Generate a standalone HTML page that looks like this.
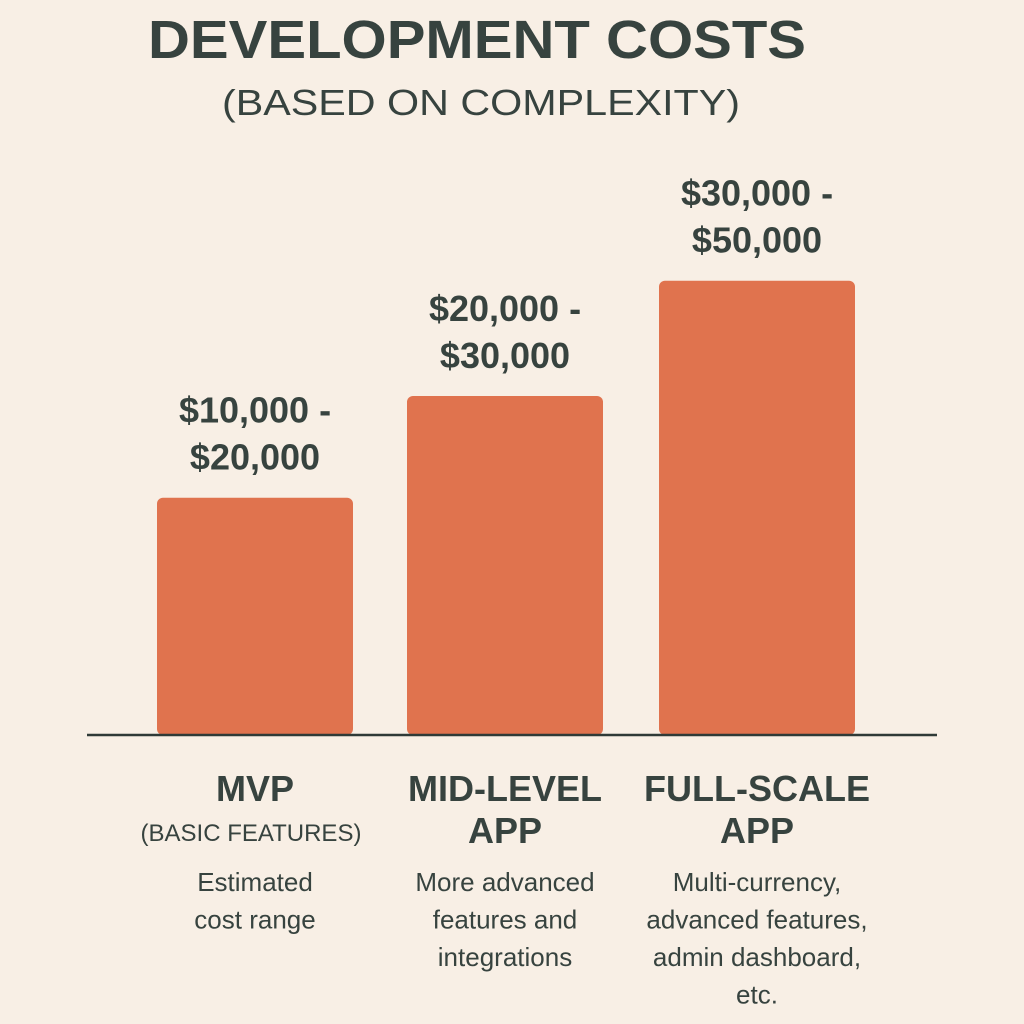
<!DOCTYPE html>
<html><head><meta charset="utf-8"><style>
html,body{margin:0;padding:0;background:#f8efe5;}
svg{display:block;font-family:"Liberation Sans",sans-serif;}
</style></head><body>
<svg width="1024" height="1024" viewBox="0 0 1024 1024">
<rect width="1024" height="1024" fill="#f8efe5"/>
<text x="477" y="58" text-anchor="middle" font-size="54" font-weight="bold" fill="#37433f" textLength="658" lengthAdjust="spacingAndGlyphs">DEVELOPMENT COSTS</text>
<text x="481" y="115" text-anchor="middle" font-size="36" fill="#37433f" textLength="518" lengthAdjust="spacingAndGlyphs">(BASED ON COMPLEXITY)</text>
<g id="bars"></g>
<line x1="87" y1="735" x2="937" y2="735" stroke="#2f3a37" stroke-width="2.5"/>
<g id="labels"></g>
</svg>
<script>
const categories = ["MVP", "MID-LEVEL APP", "FULL-SCALE APP"];
const values = [21000, 30000, 40200];
const rangeLow = ["$10,000 -", "$20,000 -", "$30,000 -"];
const rangeHigh = ["$20,000", "$30,000", "$50,000"];
const titleLines = [["MVP"], ["MID-LEVEL", "APP"], ["FULL-SCALE", "APP"]];
const subLines = [["(BASIC FEATURES)"], [], []];
const descLines = [["Estimated", "cost range"], ["More advanced", "features and", "integrations"], ["Multi-currency,", "advanced features,", "admin dashboard,", "etc."]];

const NS = "http://www.w3.org/2000/svg";
const baseY = 735;
const pxPerUnit = 11.3 / 1000;
function yScale(v){ return baseY - v * pxPerUnit; }
const centers = [255, 505, 757];
const barW = 196;
function xCenter(i){ return centers[i]; }

const gb = document.getElementById("bars");
const gl = document.getElementById("labels");
function txt(parent, x, y, s, size, weight, name){
  const t = document.createElementNS(NS, "text");
  t.setAttribute("x", x); t.setAttribute("y", y);
  t.setAttribute("text-anchor", "middle");
  t.setAttribute("font-size", size);
  if (weight) t.setAttribute("font-weight", weight);
  t.setAttribute("fill", "#37433f");
  t.textContent = s;
  
  
  parent.appendChild(t);
  return t;
}
values.forEach((v, i) => {
  const top = yScale(v);
  const r = document.createElementNS(NS, "rect");
  r.setAttribute("x", xCenter(i) - barW / 2);
  r.setAttribute("y", top);
  r.setAttribute("width", barW);
  r.setAttribute("height", baseY - top);
  r.setAttribute("rx", 6);
  r.setAttribute("fill", "#e0734e");
  
  
  gb.appendChild(r);
  txt(gl, xCenter(i), top - 75, rangeLow[i], 36, "bold", "value-label-low");
  txt(gl, xCenter(i), top - 28, rangeHigh[i], 36, "bold", "value-label-high");
  let y = 801;
  titleLines[i].forEach(s => { txt(gl, xCenter(i), y, s, 36, "bold", "category-label"); y += 42; });
  let y2 = 841;
  subLines[i].forEach(s => { txt(gl, xCenter(i) - 4, y2, s, 24, null, "category-sublabel"); });
  let y3 = 891;
  descLines[i].forEach(s => { txt(gl, xCenter(i), y3, s, 26, null, "category-description"); y3 += 37.5; });
});
</script>
</body></html>
